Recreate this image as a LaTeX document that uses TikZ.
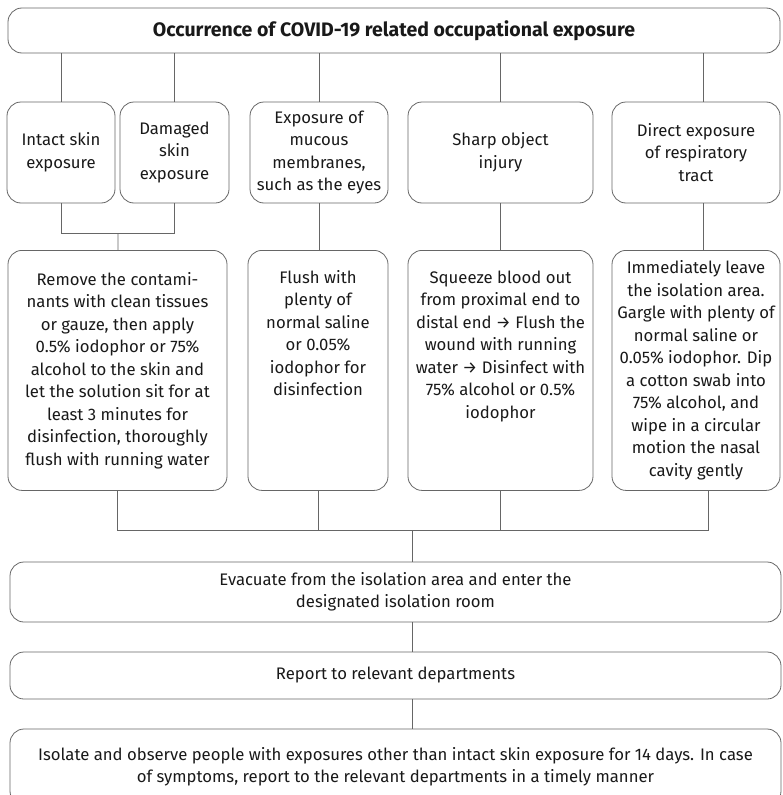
\documentclass[tikz,border=0pt]{standalone}
\usepackage{fontspec}
\setmainfont{Fira Sans}
\usepackage{tikz}
\tikzstyle{every node}=[draw=black!60, line width=0.8pt, rounded corners=14pt,
	                        align=center, inner sep=0pt, text=black!90,
	                        font=\fontsize{16.7}{22.5}\selectfont]
\tikzstyle{link}=[draw=black!60, line width=0.8pt]
\tikzstyle{typebox}=[minimum height=101pt]
\tikzstyle{actionbox}=[minimum height=240pt, anchor=north]
\tikzstyle{toptext}=[inner ysep=22pt]
\tikzstyle{widebox}=[minimum width=771pt]

\begin{document}
\begin{tikzpicture}[x=1pt, y=-1pt]
\useasboundingbox (0,0) rectangle (782,795);
\node [minimum width=772pt, minimum height=45pt,
       font=\fontsize{19.5}{24}\selectfont\bfseries] (occur) at (394,30.5)
      {Occurrence of COVID-19 related occupational exposure};
% kinds of exposure
\node [typebox, minimum width=108pt] (intact) at (61,152.5) {Intact skin\\exposure};
\node [typebox, minimum width=109pt] (damaged) at (174.5,152.5) {Damaged\\skin\\exposure};
\node [typebox, minimum width=138pt] (mucous) at (319,152.5)
      {Exposure of\\mucous\\membranes,\\such as the eyes};
\node [typebox, minimum width=185pt] (sharp) at (500.5,152.5) {Sharp object\\injury};
\node [typebox, minimum width=168pt] (direct) at (696,152.5)
      {Direct exposure\\of respiratory\\tract};
% what to do
\node [actionbox, minimum width=219pt] (remove) at (117.5,250)
      {Remove the contami-\\nants with clean tissues\\or gauze, then apply\\0.5\% iodophor or 75\%\\alcohol to the skin and\\let the solution sit for at\\least 3 minutes for\\disinfection, thoroughly\\flush with running water};
\node [actionbox, toptext, text height=123.5pt, text depth=72.5pt,
       minimum width=140pt] (flush) at (318,250)
      {Flush with\\plenty of\\normal saline\\or 0.05\%\\iodophor for\\disinfection};
\node [actionbox, toptext, text height=146pt, text depth=50pt,
       minimum width=185pt] (squeeze) at (500.5,250)
      {Squeeze blood out\\from proximal end to\\distal end → Flush the\\wound with running\\water → Disinfect with\\75\% alcohol or 0.5\%\\iodophor};
\node [actionbox, minimum width=168pt] (leave) at (696,250)
      {Immediately leave\\the isolation area.\\\makebox[150pt]{Gargle with plenty of}\\normal saline or\\0.05\% iodophor. Dip\\a cotton swab into\\75\% alcohol, and\\wipe in a circular\\motion the nasal\\cavity gently};
% after that
\node [widebox, minimum height=60pt] (evacuate) at (395.5,592)
      {Evacuate from the isolation area and enter the\\designated isolation room};
\node [widebox, minimum height=47pt] (report) at (395.5,675.5) {Report to relevant departments};
\node [widebox, minimum height=76pt] (isolate) at (395.5,767)
      {Isolate and observe people with exposures other than intact skin exposure for 14 days. In case\\of symptoms, report to the relevant departments in a timely manner};

\coordinate (skinjoin) at (118,233);
\coordinate (actjoin) at (412,530);
\coordinate (tracttop) at (703,0);
\coordinate (tractbot) at (708,0);
\foreach \n in {intact,damaged,mucous,sharp}
	\draw [link] (occur.south -| \n) -- (\n);
\draw [link] (occur.south -| tracttop) -- (direct.north -| tracttop);
\draw [link] (intact.south) |- (damaged.south |- skinjoin) -- (damaged.south);
\draw [link] (skinjoin) -- (remove);
\draw [link] (mucous.south) -- (mucous.south |- flush.north);
\draw [link] (sharp) -- (squeeze);
\draw [link] (direct.south -| tracttop) -- (leave.north -| tracttop);
\draw [link] (remove.south) |- (actjoin -| tractbot) -- (leave.south -| tractbot);
\foreach \n in {flush,squeeze}
	\draw [link] (\n.south) -- (\n.south |- actjoin);
\draw [link] (actjoin) -- (actjoin |- evacuate.north);
\draw [link] (evacuate.south -| actjoin) -- (report.north -| actjoin);
\draw [link] (report.south -| actjoin) -- (isolate.north -| actjoin);
\end{tikzpicture}
\end{document}
